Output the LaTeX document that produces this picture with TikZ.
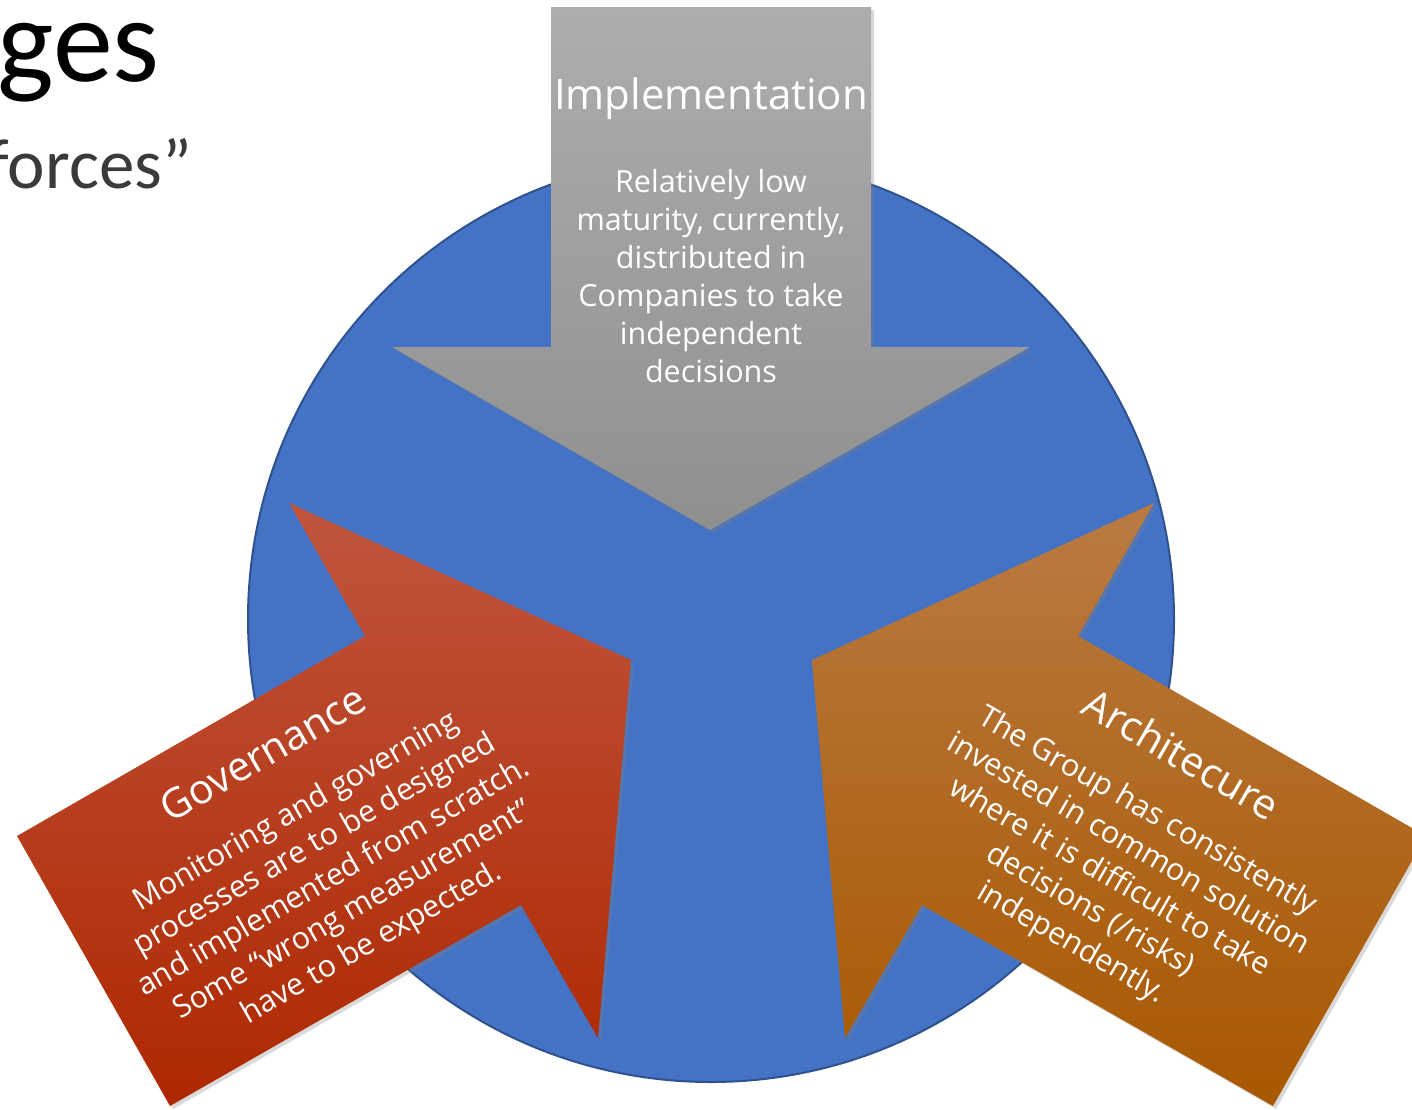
\documentclass[tikz,border=0pt]{standalone}
\usepackage{fontspec}
\setmainfont{Carlito}
\newfontfamily\arrowfont{Open Sans}
\usetikzlibrary{shadows}
\definecolor{circblue}{HTML}{4472C4}
\definecolor{circline}{HTML}{2F528F}
\definecolor{titlegray}{HTML}{3A3A3A}
\definecolor{grytop}{HTML}{ADADAD}
\definecolor{grybot}{HTML}{8F8F8F}
\definecolor{redtop}{HTML}{C0553E}
\definecolor{redbot}{HTML}{AE2800}
\definecolor{orgtop}{HTML}{BA7A42}
\definecolor{orgbot}{HTML}{A85800}
\begin{document}
\begin{tikzpicture}[x=1pt,y=-1pt,
  forcearrow/.style={drop shadow={shadow xshift=3pt,shadow yshift=-3pt,opacity=.3}},
  forcehead/.style={text=white,inner sep=0pt,font=\arrowfont\fontsize{41}{48}\selectfont},
  forcebody/.style={text=white,inner sep=0pt,align=center,font=\arrowfont\fontsize{30.5}{38}\selectfont}]
\useasboundingbox (0,0) rectangle (1412,1109);
\clip (0,0) rectangle (1412,1109);
\node[anchor=base east,inner sep=0pt,font=\fontsize{120}{120}\selectfont] (slidetitle) at (160,81) {ges};
\node[anchor=base east,inner sep=0pt,text=titlegray,font=\fontsize{71}{80}\selectfont] (slidesub) at (192,188) {forces”};
\draw[circline,fill=circblue,line width=2pt] (711,619) circle[radius=463];
\path[forcearrow,top color=grytop,bottom color=grybot] (551,7) -- (871,7) -- (871,347) -- (1030,347) -- (710,530) -- (392,347) -- (551,347) -- cycle;
\path[forcearrow,top color=redtop,bottom color=redbot] (289,503) -- (631,660) -- (598,1038) -- (521,905) -- (170,1106) -- (17,836) -- (365,636) -- cycle;
\path[forcearrow,top color=orgtop,bottom color=orgbot] (1154,503) -- (1078,636) -- (1426,836) -- (1273,1106) -- (922,905) -- (845,1038) -- (812,660) -- cycle;
\node[forcehead,anchor=base,font=\arrowfont\fontsize{42}{48}\selectfont] (impltitle) at (711,109) {Implementation};
\node[forcebody] (impltext) at (711,276) {Relatively low\\maturity, currently,\\distributed in\\Companies to take\\independent\\decisions};
\node[forcehead,rotate=30] (govtitle) at (263,753) {Governance};
\node[forcebody,rotate=30] (govtext) at (334,878) {Monitoring and governing\\processes are to be designed\\and implemented from scratch.\\Some “wrong measurement”\\have to be expected.};
\node[forcehead,rotate=-30] (archtitle) at (1182,754) {Architecure};
\node[forcebody,rotate=-30] (archtext) at (1109,878) {The Group has consistently\\invested in common solution\\where it is difficult to take\\decisions (/risks)\\independently.};
\end{tikzpicture}
\end{document}
